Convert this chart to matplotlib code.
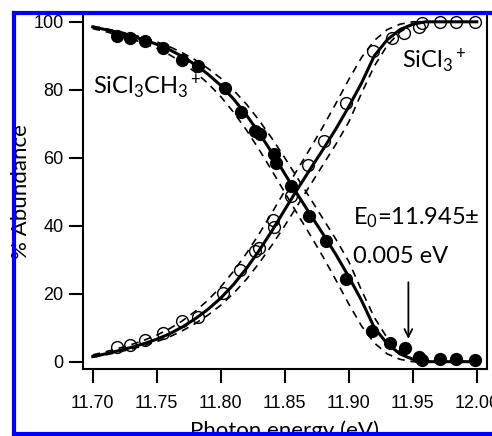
import numpy as np
import matplotlib
matplotlib.use("Agg")
import matplotlib.pyplot as plt
from matplotlib.lines import Line2D

plt.rcParams['font.family'] = ['Lato', 'DejaVu Sans']
plt.rcParams['mathtext.fontset'] = 'custom'
plt.rcParams['mathtext.rm'] = 'Lato'
plt.rcParams['mathtext.it'] = 'Lato:italic'
plt.rcParams['mathtext.bf'] = 'Lato:bold'

#measured points: parent ion SiCl3CH3+ (filled circles)
parent_x = [11.719, 11.729, 11.741, 11.755, 11.770, 11.782, 11.803, 11.816, 11.827, 11.831,
            11.842, 11.843, 11.855, 11.869, 11.882, 11.898, 11.918, 11.932, 11.944, 11.955,
            11.957, 11.971, 11.984, 11.999]
parent_y = [95.9, 95.3, 94.3, 92.2, 88.7, 87.1, 80.6, 73.5, 67.8, 67.0,
            61.0, 58.5, 51.7, 42.9, 35.6, 24.2, 9.1, 5.6, 3.9, 1.5,
            0.5, 0.7, 0.7, 0.5]

#measured points: daughter ion SiCl3+ (open circles)
daughter_x = [11.719, 11.729, 11.741, 11.755, 11.770, 11.782, 11.802, 11.815, 11.827, 11.830,
              11.841, 11.842, 11.855, 11.868, 11.881, 11.898, 11.919, 11.934, 11.943, 11.955,
              11.957, 11.971, 11.984, 11.999]
daughter_y = [4.2, 4.9, 6.4, 8.3, 12.0, 13.2, 20.3, 27.0, 32.5, 33.5,
              41.7, 39.5, 48.7, 57.9, 65.0, 76.2, 91.5, 95.1, 96.6, 98.5,
              99.7, 100.0, 100.0, 100.0]

#fitted curves
fit_x = [11.70, 11.71, 11.72, 11.73, 11.74, 11.75, 11.76, 11.77, 11.78, 11.79,
         11.80, 11.81, 11.82, 11.83, 11.84, 11.85, 11.86, 11.87, 11.88, 11.89,
         11.90, 11.91, 11.92, 11.93, 11.94, 11.95, 11.96, 11.97, 11.98, 11.99, 12.00]

parent_fit = [98.5, 97.7, 96.8, 95.8, 94.7, 93.4, 91.8, 89.8, 87.4, 84.6,
              81.3, 77.3, 72.6, 67.3, 61.5, 55.3, 49.2, 43.3, 37.5, 31.5,
              25.0, 18.0, 10.0, 5.3, 2.3, 0.7, 0.0, 0.0, 0.0, 0.0, 0.0]
parent_fit_lo = [98.0, 97.1, 96.1, 95.0, 93.7, 92.2, 90.3, 88.0, 85.2, 81.9,
                 78.0, 73.4, 68.2, 62.4, 56.2, 49.8, 43.4, 37.2, 30.8, 24.0,
                 17.0, 10.5, 5.5, 2.3, 0.7, 0.0, 0.0, 0.0, 0.0, 0.0, 0.0]
parent_fit_hi = [98.7, 98.0, 97.2, 96.3, 95.3, 94.1, 92.7, 90.9, 88.8, 86.3,
                 83.4, 79.9, 75.8, 71.0, 65.7, 60.0, 54.0, 48.0, 42.0, 36.0,
                 29.5, 21.0, 13.0, 7.0, 3.0, 0.8, 0.0, 0.0, 0.0, 0.0, 0.0]

daughter_fit = [1.5, 2.3, 3.2, 4.2, 5.3, 6.6, 8.2, 10.2, 12.6, 15.4,
                18.7, 22.7, 27.4, 32.7, 38.5, 44.7, 50.8, 56.7, 62.5, 68.5,
                75.0, 82.0, 90.0, 94.7, 97.7, 99.3, 100.0, 100.0, 100.0, 100.0, 100.0]
daughter_fit_lo = [2.0, 2.9, 3.9, 5.0, 6.3, 7.8, 9.7, 12.0, 14.8, 18.1,
                   22.0, 26.6, 31.8, 37.6, 43.8, 50.2, 56.6, 62.8, 69.2, 76.0,
                   83.0, 89.5, 94.5, 97.7, 99.3, 100.0, 100.0, 100.0, 100.0, 100.0, 100.0]
daughter_fit_hi = [1.3, 2.0, 2.8, 3.7, 4.7, 5.9, 7.3, 9.1, 11.2, 13.7,
                   16.6, 20.1, 24.2, 29.0, 34.3, 40.0, 46.0, 52.0, 58.0, 64.0,
                   70.5, 79.0, 87.0, 93.0, 97.0, 99.2, 100.0, 100.0, 100.0, 100.0, 100.0]

x_ticks = [11.70, 11.75, 11.80, 11.85, 11.90, 11.95, 12.00]
y_ticks = [0, 20, 40, 60, 80, 100]

E0 = 11.9466


def main():
    fig = plt.figure(figsize=(4.92, 4.36), dpi=100)
    ax = fig.add_axes([0.1687, 0.1537, 0.8211, 0.8142])

    # dashed fits (error bounds)
    for vals in (parent_fit_lo, parent_fit_hi, daughter_fit_lo, daughter_fit_hi):
        ax.plot(fit_x, vals, color='black', lw=1.2, dashes=(4.5, 3.5), zorder=2)

    # solid best fits
    ax.plot(fit_x, parent_fit, color='black', lw=2.2, zorder=3)
    ax.plot(fit_x, daughter_fit, color='black', lw=2.2, zorder=3)

    # data points
    ax.plot(parent_x, parent_y, 'o', ms=8.5, mfc='black', mec='black', zorder=4)
    ax.plot(daughter_x, daughter_y, 'o', ms=8.5, mfc='none', mec='black', mew=1.0, zorder=4)

    # labels inside plot
    ax.text(11.700, 78.6, r'SiCl$_3$CH$_3$$^+$', fontsize=17)
    ax.text(11.9414, 86.3, r'SiCl$_3$$^+$', fontsize=17)
    ax.text(11.9036, 40.5, r'E$_0$=11.945±', fontsize=17)
    ax.text(11.9036, 28.9, '0.005 eV', fontsize=17)
    ax.annotate('', xy=(E0, 5.9), xytext=(E0, 24.2),
                arrowprops=dict(arrowstyle='->', color='black', lw=1.3,
                                mutation_scale=14))

    # axes formatting
    ax.set_xlim(11.6924, 12.008)
    ax.set_ylim(-2.15, 102.3)
    ax.set_xticks(x_ticks)
    ax.set_xticklabels([f"{v:.2f}" for v in x_ticks], fontfamily='Liberation Sans')
    ax.set_yticks(y_ticks)
    ax.set_yticklabels([str(v) for v in y_ticks], fontfamily='Liberation Sans')
    ax.tick_params(axis='both', direction='out', length=10, width=1.5, labelsize=13)
    ax.tick_params(axis='x', pad=9)
    ax.tick_params(axis='y', pad=4)
    for s in ax.spines.values():
        s.set_linewidth(1.5)
    ax.set_xlabel('Photon energy (eV)', fontsize=16, labelpad=6)
    ax.set_ylabel('% Abundance', fontsize=16, labelpad=2)

    # blue frame around figure
    bl = '#0000ff'
    fig.add_artist(Line2D([0.0285, 0.0285], [0.0046, 0.9713], color=bl, lw=3, transform=fig.transFigure, zorder=10))
    fig.add_artist(Line2D([0.0285, 1.0], [0.9713, 0.9713], color=bl, lw=3, transform=fig.transFigure, zorder=10))
    fig.add_artist(Line2D([0.0285, 1.0], [0.0046, 0.0046], color=bl, lw=3, transform=fig.transFigure, zorder=10))

    fig.savefig('out.png', dpi=100)


if __name__ == "__main__":
    main()
